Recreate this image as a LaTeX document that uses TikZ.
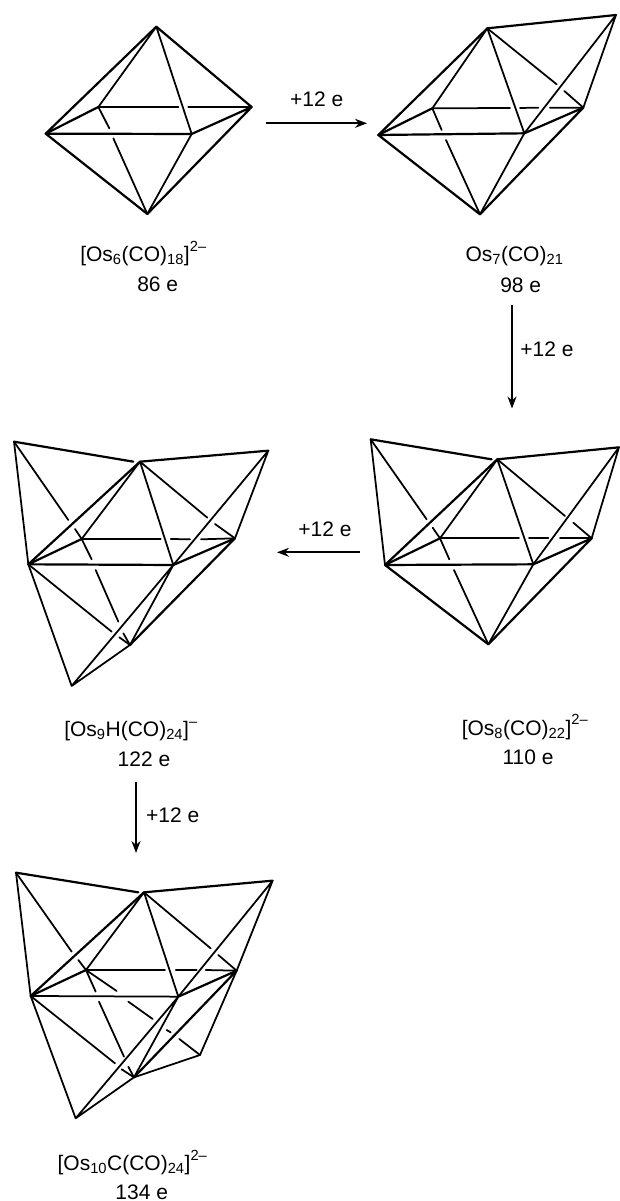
\documentclass[tikz,border=0pt]{standalone}
\usepackage{fontspec}
\setmainfont{Liberation Sans}
\usetikzlibrary{arrows.meta}
\newcommand\upidx[1]{\raisebox{3pt}{\textsuperscript{#1}}}
\tikzset{
  bond/.style={line width=1.75pt,line cap=round,line join=round,black},
  heavy/.style={line width=2.2pt,line cap=round,line join=round,black},
  zoomed/.style={x=0.3333pt,y=-0.3333pt},
  rxn/.style={line width=1.7pt,-{Stealth[length=12pt,width=9pt]}},
  lab/.style={anchor=base,inner sep=0pt,font=\fontsize{21}{23}\selectfont},
}
\begin{document}
\begin{tikzpicture}[x=1pt,y=-1pt]
\useasboundingbox (0,0) rectangle (619,1201);
% ---------- Os6
\begin{scope}[shift={(30,10)},zoomed]
\coordinate (at) at (379,50);
\coordinate (ar) at (665,291);
\coordinate (al) at (47,371);
\coordinate (ab) at (205,291);
\coordinate (af) at (485,372);
\coordinate (ad) at (352,612);
\draw[heavy] (al)--(at)--(ar)--(ad)--(al)--(af)--(ar);
\draw[heavy] (al)--(ab);
\draw[bond] (ab)--(at) (at)--(af)--(ad);
\draw[bond] (ab)--(445,291) (475,291)--(ar);
\draw[bond] (ab)--(238,355) (250,385)--(ad);
\end{scope}
% ---------- Os7
\begin{scope}[shift={(370,5)},zoomed]
\coordinate (bt) at (352,70);
\coordinate (bc) at (738,30);
\coordinate (br) at (640,308);
\coordinate (bl) at (25,390);
\coordinate (bb) at (187,310);
\coordinate (bf) at (463,385);
\coordinate (bd) at (330,628);
\draw[heavy] (bl)--(bt)--(bc);
\draw[heavy] (br)--(bd)--(bl)--(bf)--(br);
\draw[heavy] (bl)--(bb);
\draw[bond] (bb)--(bt) (bt)--(bf)--(bd) (bc)--(bf) (bc)--(br);
\draw[bond] (bt)--(560,238) (583,258)--(br);
\draw[bond] (bb)--(420,309) (450,309)--(505,308) (540,308)--(br);
\draw[bond] (bb)--(215,375) (228,405)--(bd);
\end{scope}
% ---------- Os8
\begin{scope}[shift={(360,430)},zoomed]
\coordinate (ct) at (412,88);
\coordinate (cl) at (75,405);
\coordinate (cu) at (32,28);
\coordinate (cc) at (777,52);
\coordinate (cr) at (695,325);
\coordinate (cb) at (240,325);
\coordinate (cf) at (520,403);
\coordinate (cd) at (385,643);
\draw[heavy] (cu)--(395,88) (cl)--(ct)--(cc);
\draw[heavy] (cr)--(cd)--(cl)--(cf)--(cr);
\draw[heavy] (cl)--(cb);
\draw[bond] (cu)--(cl) (cb)--(ct) (ct)--(cf)--(cd) (cc)--(cf) (cc)--(cr);
\draw[bond] (cu)--(200,268) (218,293)--(cb);
\draw[bond] (cb)--(268,388) (282,420)--(cd);
\draw[bond] (ct)--(615,258) (640,278)--(cr);
\draw[bond] (cb)--(477,325) (507,325)--(565,325) (600,325)--(cr);
\end{scope}
% ---------- Os9
\begin{scope}[shift={(0,430)},zoomed]
\coordinate (dt) at (420,95);
\coordinate (dl) at (85,403);
\coordinate (du) at (42,35);
\coordinate (dc) at (805,62);
\coordinate (dr) at (705,325);
\coordinate (db) at (245,327);
\coordinate (df) at (520,405);
\coordinate (dd) at (390,645);
\coordinate (de) at (215,768);
\draw[heavy] (du)--(400,95) (dl)--(dt)--(dc);
\draw[heavy] (dr)--(dd) (dl)--(df)--(dr);
\draw[heavy] (dl)--(db);
\draw[bond] (du)--(dl) (db)--(dt) (dt)--(df) (dc)--(df) (dc)--(dr);
\draw[bond] (df)--(dd)--(de)--(df) (de)--(dl);
\draw[bond] (du)--(205,270) (225,297)--(db);
\draw[bond] (db)--(275,388) (287,420)--(355,575) (370,610)--(dd);
\draw[bond] (dl)--(335,605) (358,622)--(dd);
\draw[bond] (dt)--(622,263) (645,282)--(dr);
\draw[bond] (db)--(482,327) (512,327)--(570,328) (603,328)--(dr);
\end{scope}
% ---------- Os10
\begin{scope}[shift={(0,860)},zoomed]
\coordinate (et) at (432,97);
\coordinate (el) at (92,408);
\coordinate (eu) at (48,38);
\coordinate (ec) at (818,62);
\coordinate (er) at (710,332);
\coordinate (eb) at (258,330);
\coordinate (ef) at (535,410);
\coordinate (ed) at (402,652);
\coordinate (ee) at (227,775);
\coordinate (eg) at (600,585);
\draw[heavy] (eu)--(415,97) (el)--(et)--(ec);
\draw[heavy] (el)--(eb) (ef)--(er)--(ed);
\draw[bond] (el)--(ef);
\draw[bond] (eu)--(el) (eb)--(et) (et)--(ef) (ec)--(ef) (ec)--(er)--(eg)--(ed);
\draw[bond] (ef)--(ed)--(ee)--(ef) (ee)--(el);
\draw[bond] (eu)--(215,275) (235,300)--(eb);
\draw[bond] (eb)--(287,395) (297,425)--(372,590) (385,620)--(ed);
\draw[bond] (eb)--(350,393) (385,425)--(458,477) (500,510)--(512,517) (538,537)--(eg);
\draw[bond] (el)--(345,610) (365,628)--(ed);
\draw[bond] (et)--(632,265) (655,285)--(er);
\draw[bond] (eb)--(495,330) (527,330)--(590,330) (617,330)--(er);
\end{scope}
% ---------- reaction arrows
\coordinate (r1a) at (266,123.3);
\coordinate (r1b) at (367,123.3);
\coordinate (r2a) at (512,305);
\coordinate (r2b) at (512,408.5);
\coordinate (r3a) at (360,552.3);
\coordinate (r3b) at (277,552.3);
\coordinate (r4a) at (136,782);
\coordinate (r4b) at (136,853);
\draw[rxn] (r1a)--(r1b);
\draw[rxn] (r2a)--(r2b);
\draw[rxn] (r3a)--(r3b);
\draw[rxn,line width=2.4pt] (r4a)--(r4b);
% ---------- labels
\node[lab] (l1) at (316.7,107) {+12 e};
\node[lab] (l2) at (547,356) {+12 e};
\node[lab] (l3) at (325,536.7) {+12 e};
\node[lab] (l4) at (172.7,822.7) {+12 e};
\node[lab] (f1) at (143.5,261.7) {[Os\textsubscript{6}(CO)\textsubscript{18}]\upidx{2–}};
\node[lab] (e1) at (157.7,291.7) {86 e};
\node[lab] (f2) at (514.5,261.7) {Os\textsubscript{7}(CO)\textsubscript{21}};
\node[lab] (e2) at (520.7,292) {98 e};
\node[lab] (f3) at (525,735) {[Os\textsubscript{8}(CO)\textsubscript{22}]\upidx{2–}};
\node[lab] (e3) at (528,764) {110 e};
\node[lab] (f4) at (131,736.7) {[Os\textsubscript{9}H(CO)\textsubscript{24}]\upidx{–}};
\node[lab] (e4) at (144,766) {122 e};
\node[lab] (f5) at (132.5,1170.7) {[Os\textsubscript{10}C(CO)\textsubscript{24}]\upidx{2–}};
\node[lab] (e5) at (141.7,1199) {134 e};
\end{tikzpicture}
\end{document}
